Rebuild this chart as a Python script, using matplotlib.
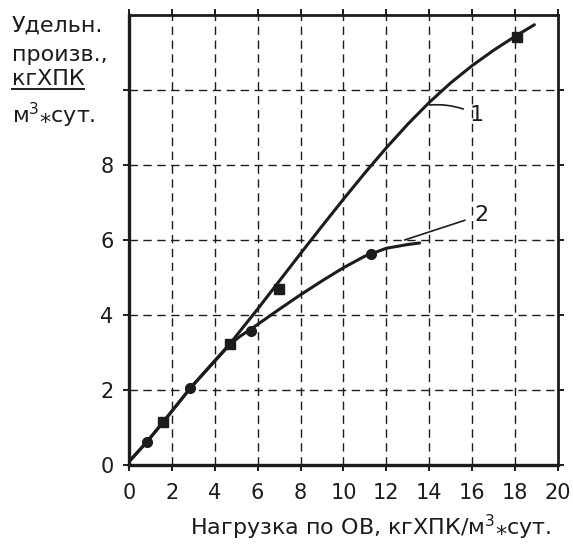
import matplotlib
matplotlib.use("Agg")
import matplotlib.pyplot as plt
from matplotlib.lines import Line2D

plt.rcParams["font.family"] = ["DejaVu Sans", "Liberation Sans"]
plt.rcParams["mathtext.fontset"] = "dejavusans"

INK = "#1c1c1c"

# кривая 1
curve1_x = [0.05, 0.84, 1.6, 2.86, 4.73, 6.0, 7.0, 8.0, 9.0, 10.0, 11.0, 12.0, 13.0, 14.0, 15.0, 16.0, 17.0, 18.0, 18.9]
curve1_y = [0.12, 0.62, 1.15, 2.05, 3.25, 4.16, 4.90, 5.64, 6.37, 7.09, 7.79, 8.46, 9.09, 9.67, 10.19, 10.65, 11.06, 11.43, 11.74]
# маркеры кривой 1
marks1_x = [1.6, 4.73, 7.0, 18.1]
marks1_y = [1.15, 3.22, 4.7, 11.42]

# кривая 2
curve2_x = [0.05, 0.84, 1.6, 2.86, 4.73, 5.2, 5.7, 7.0, 8.0, 9.0, 10.0, 11.0, 12.0, 13.0, 13.55]
curve2_y = [0.12, 0.62, 1.15, 2.05, 3.23, 3.44, 3.63, 4.15, 4.54, 4.91, 5.26, 5.57, 5.78, 5.88, 5.92]
marks2_x = [0.84, 2.86, 5.7, 11.3]
marks2_y = [0.6, 2.05, 3.57, 5.63]

xticks = [0, 2, 4, 6, 8, 10, 12, 14, 16, 18, 20]
yticks = [0, 2, 4, 6, 8, 10]
ytick_labels = ["0", "2", "4", "6", "8", ""]

fig = plt.figure(figsize=(5.73, 5.45), dpi=100)
ax = fig.add_axes([0.2251, 0.1468, 0.7487, 0.8257])

ax.set_xlim(0, 20)
ax.set_ylim(0, 12)

# сетка
for gx in xticks[1:-1]:
    ax.axvline(gx, color=INK, lw=1.0, dashes=(6, 4), zorder=1)
for gy in yticks[1:]:
    ax.axhline(gy, color=INK, lw=1.0, dashes=(6, 4), zorder=1)

ax.plot(curve1_x, curve1_y, color=INK, lw=2.2, solid_joinstyle="round", solid_capstyle="round", zorder=3)
ax.plot(curve2_x, curve2_y, color=INK, lw=2.2, solid_joinstyle="round", solid_capstyle="round", zorder=3)
ax.plot(marks1_x, marks1_y, ls="none", marker="s", ms=7.5, color=INK, zorder=4)
ax.plot(marks2_x, marks2_y, ls="none", marker="o", ms=7, color=INK, zorder=4)

# подписи кривых
ax.annotate("1", xy=(14.0, 9.6), xytext=(15.9, 9.33), fontsize=16, color=INK,
            va="center", ha="left",
            arrowprops=dict(arrowstyle="-", color=INK, lw=1.2, shrinkA=3, shrinkB=0,
                            connectionstyle="arc3,rad=0.15"))
ax.annotate("2", xy=(12.85, 6.0), xytext=(16.1, 6.67), fontsize=16, color=INK,
            va="center", ha="left",
            arrowprops=dict(arrowstyle="-", color=INK, lw=1.2, shrinkA=5, shrinkB=0))

ax.set_xticks(xticks)
ax.set_xticklabels([str(t) for t in xticks])
ax.set_yticks(yticks)
ax.set_yticklabels(ytick_labels)
ax.tick_params(axis="both", direction="out", length=4, width=1.4, color=INK,
               labelsize=15, labelcolor=INK)
ax.tick_params(axis="x", pad=9)
ax.tick_params(axis="y", pad=7)
ax.tick_params(top=True, right=True, which="both")

for side in ["left", "bottom"]:
    ax.spines[side].set_linewidth(2.4)
    ax.spines[side].set_color(INK)
for side in ["top", "right"]:
    ax.spines[side].set_linewidth(2.0)
    ax.spines[side].set_color(INK)

# подпись оси X
fig.text(551 / 573, 1 - 535 / 545, "Нагрузка по ОВ, кгХПК/м$^3$⁎сут.",
         ha="right", va="baseline", fontsize=16, color=INK)

# подпись оси Y
ylab = ["Удельн.", "произв.,", "кгХПК", "м$^3$⁎сут."]
ylab_base = [32, 61, 85, 123]
for txt, py in zip(ylab, ylab_base):
    fig.text(12 / 573, 1 - py / 545, txt, ha="left", va="baseline", fontsize=16, color=INK)
fig.add_artist(Line2D([12 / 573, 84 / 573], [1 - 89 / 545, 1 - 89 / 545],
                      color=INK, lw=1.4, transform=fig.transFigure))

fig.savefig("out.png", dpi=100, facecolor="white")
